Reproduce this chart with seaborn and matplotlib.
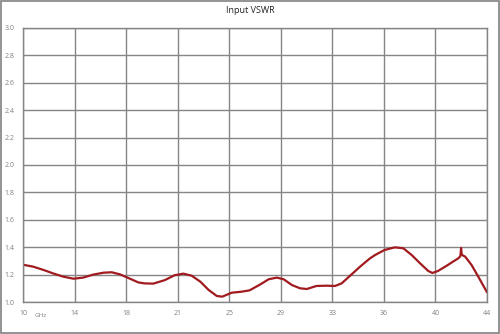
import matplotlib
matplotlib.use("Agg")
import matplotlib.pyplot as plt
import seaborn as sns
import numpy as np
import pandas as pd

freq_ghz = [10.0, 10.75, 11.5, 12.2, 12.95, 13.7, 14.4, 15.15, 15.9, 16.5, 17.1, 17.84, 18.45,
            18.9, 19.55, 20.4, 21.1, 21.75, 22.36, 23.0, 23.6, 24.2, 24.6, 25.3, 26.0, 26.6,
            27.0, 27.4, 28.0, 28.6, 29.1, 29.7, 30.3, 30.8, 31.5, 32.25, 32.86, 33.35, 33.97,
            34.7, 35.43, 35.8, 36.5, 37.25, 37.87, 38.48, 39.1, 39.7, 40.0, 40.4, 41.05, 41.5,
            41.9, 42.05, 42.1, 42.15, 42.4, 42.87, 43.36, 44.0]
vswr = [1.272, 1.258, 1.234, 1.209, 1.185, 1.170, 1.178, 1.200, 1.214, 1.217, 1.202, 1.170, 1.143,
        1.136, 1.134, 1.160, 1.195, 1.207, 1.192, 1.148, 1.088, 1.044, 1.039, 1.068, 1.075, 1.085,
        1.107, 1.129, 1.166, 1.178, 1.166, 1.124, 1.100, 1.095, 1.117, 1.119, 1.117, 1.136, 1.192,
        1.258, 1.319, 1.343, 1.380, 1.399, 1.392, 1.343, 1.282, 1.226, 1.212, 1.226, 1.265, 1.294,
        1.319, 1.335, 1.395, 1.345, 1.331, 1.270, 1.185, 1.071]

x_tick_labels = ["10", "14", "18", "21", "25", "29", "33", "36", "40", "44"]
y_ticks = [1.0, 1.2, 1.4, 1.6, 1.8, 2.0, 2.2, 2.4, 2.6, 2.8, 3.0]
title = "Input VSWR"
x_unit = "GHz"

df = pd.DataFrame({"freq": freq_ghz, "vswr": vswr})

sns.set_theme(style="white")
plt.rcParams["font.family"] = ["Open Sans", "DejaVu Sans"]

fig = plt.figure(figsize=(5.0, 3.34), dpi=100)
ax = fig.add_axes([0.046, 0.0958, 0.928, 0.8204])

sns.lineplot(data=df, x="freq", y="vswr", ax=ax, color="#A11A1F", linewidth=1.6)

ax.set_xlim(10, 44)
ax.set_ylim(1.0, 3.0)
ax.set_xticks(np.linspace(10, 44, 10))
ax.set_xticklabels(x_tick_labels)
ax.set_yticks(y_ticks)
ax.set_yticklabels([f"{v:.1f}" for v in y_ticks])
ax.tick_params(axis="both", labelsize=5, colors="#808080", length=0, pad=6)
ax.grid(True, color="#858585", linewidth=1.0)
ax.set_axisbelow(True)
for s in ax.spines.values():
    s.set_color("#858585")
    s.set_linewidth(1.0)
ax.set_xlabel("")
ax.set_ylabel("")

fig.text(0.5, 0.97, title, ha="center", va="center", fontsize=6.5, color="#222222")
fig.text(0.07, 0.055, x_unit, ha="left", va="center", fontsize=4.5, color="#808080")

border = plt.Rectangle((0.002, 0.003), 0.996, 0.994, transform=fig.transFigure,
                       fill=False, edgecolor="#808080", linewidth=1.2)
fig.patches.append(border)

fig.savefig("out.png", dpi=100, facecolor="white")
